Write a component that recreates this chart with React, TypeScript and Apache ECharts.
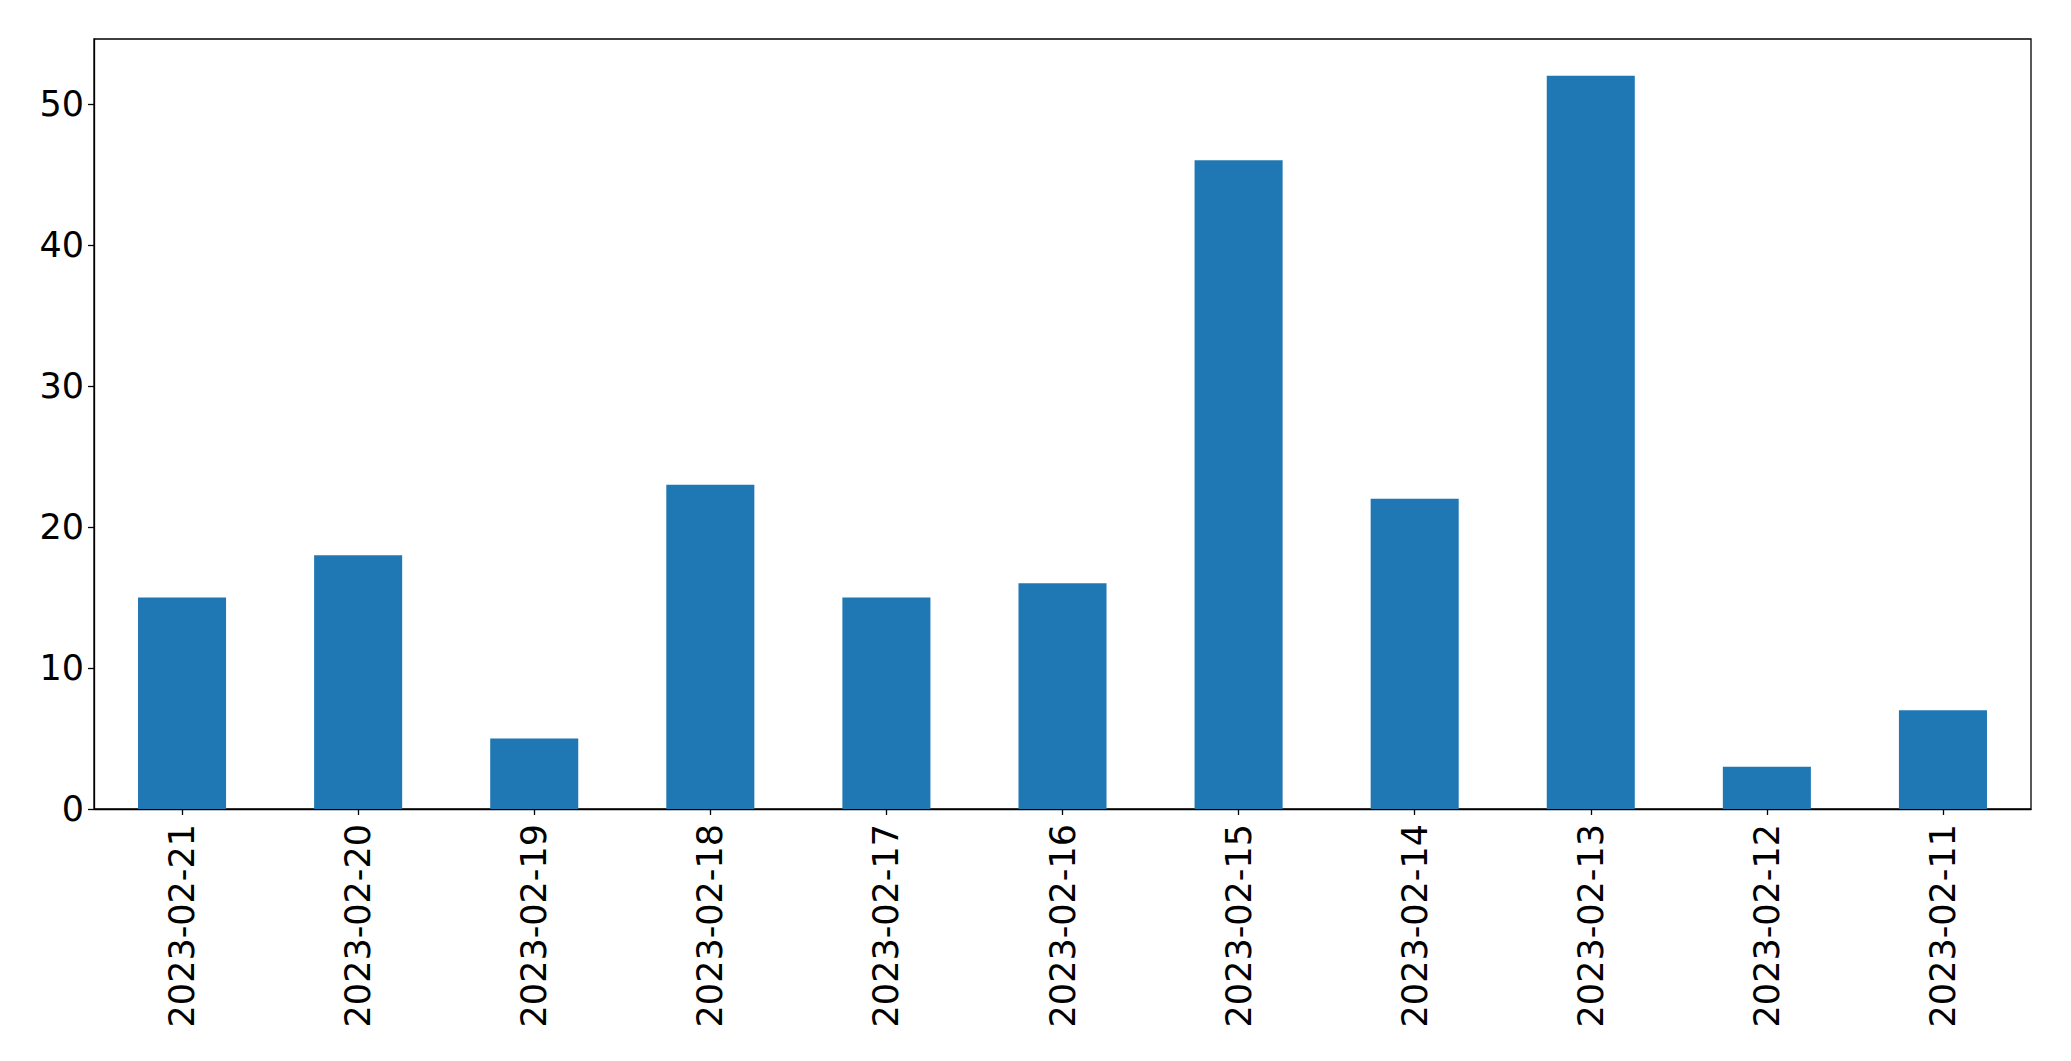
import React, { useEffect, useRef } from "react";
import * as echarts from "echarts";

const categories = [
  "2023-02-21", "2023-02-20", "2023-02-19", "2023-02-18", "2023-02-17", "2023-02-16",
  "2023-02-15", "2023-02-14", "2023-02-13", "2023-02-12", "2023-02-11",
];
const values = [15, 18, 5, 23, 15, 16, 46, 22, 52, 3, 7];
const yTicks = [0, 10, 20, 30, 40, 50];
const yMax = 54.6;

export default function App() {
  const ref = useRef<HTMLDivElement>(null);
  useEffect(() => {
    if (!ref.current) return;
    const chart = echarts.init(ref.current, null, { renderer: "svg" });
    const font = "DejaVu Sans";
    chart.setOption({
      animation: false,
      backgroundColor: "#ffffff",
      grid: {
        left: 94,
        right: 40,
        top: 39,
        bottom: 252,
        show: true,
        borderColor: "#000000",
        borderWidth: 1.3,
        backgroundColor: "transparent",
      },
      xAxis: {
        type: "category",
        data: categories,
        boundaryGap: true,
        axisLine: { show: true, lineStyle: { color: "#000", width: 1.3 } },
        axisTick: { show: true, alignWithLabel: true, length: 6, lineStyle: { color: "#000", width: 1.3 } },
        axisLabel: { rotate: 90, margin: 15, color: "#000", fontSize: 35, fontFamily: font },
        splitLine: { show: false },
      },
      yAxis: {
        type: "value",
        min: 0,
        max: yMax,
        interval: 10,
        axisLine: { show: true, lineStyle: { color: "#000", width: 1.3 } },
        axisTick: { show: true, length: 6, lineStyle: { color: "#000", width: 1.3 }, customValues: yTicks },
        axisLabel: { margin: 10, color: "#000", fontSize: 35, fontFamily: font, customValues: yTicks },
        splitLine: { show: false },
      },
      series: [
        {
          type: "bar",
          data: values,
          barWidth: "50%",
          itemStyle: { color: "#1f77b4" },
        },
      ],
    });
    return () => chart.dispose();
  }, []);
  return (
    <div
      ref={ref}
      style={{ position: "fixed", left: 0, top: 0, width: 2071, height: 1061 }}
    />
  );
}
